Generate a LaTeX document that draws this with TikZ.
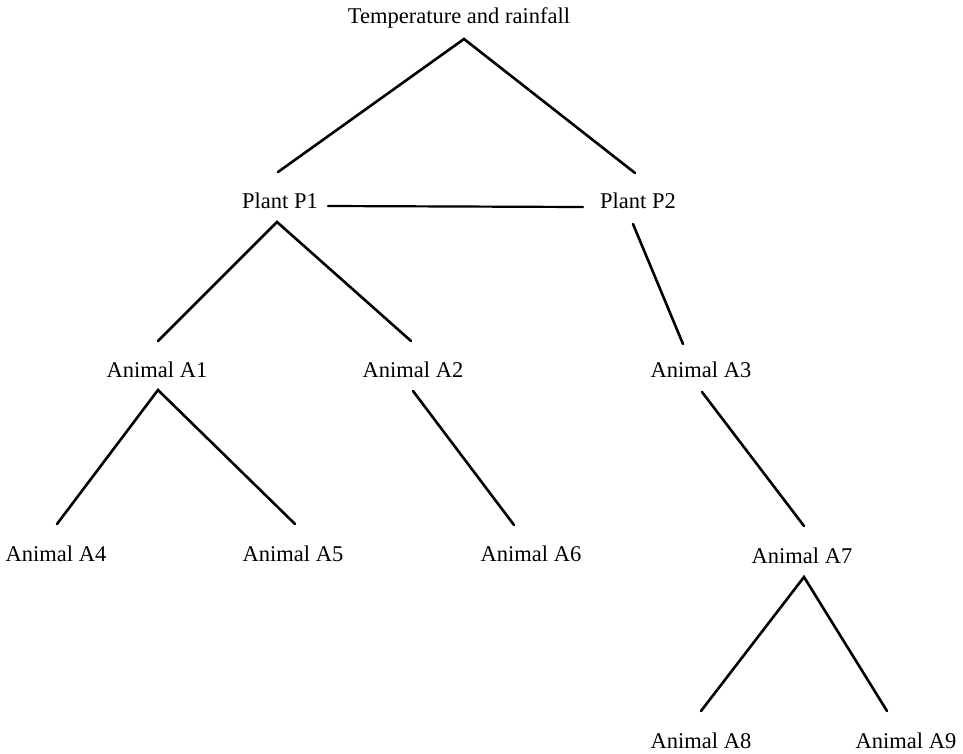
\documentclass[tikz,border=0pt]{standalone}
\usepackage{fontspec}
\setmainfont{Liberation Serif}
\begin{document}
\begin{tikzpicture}[x=1pt,y=-1pt,
  lbl/.style={anchor=base,inner sep=0pt,font=\fontsize{22.5}{27}\selectfont},
  link/.style={line width=2.6pt,line cap=round}]
\useasboundingbox[fill=white] (0,0) rectangle (963,753);

% labels
\node[lbl] (T)  at (459,23)  {Temperature and rainfall};
\node[lbl] (P1) at (280,208) {Plant P1};
\node[lbl] (P2) at (638,208) {Plant P2};
\node[lbl] (A1) at (157,377) {Animal A1};
\node[lbl] (A2) at (413,377) {Animal A2};
\node[lbl] (A3) at (701,377) {Animal A3};
\node[lbl] (A4) at (56,561)  {Animal A4};
\node[lbl] (A5) at (293,561) {Animal A5};
\node[lbl] (A6) at (531,561) {Animal A6};
\node[lbl] (A7) at (802,563) {Animal A7};
\node[lbl] (A8) at (701,748) {Animal A8};
\node[lbl] (A9) at (906,748) {Animal A9};

% line ends
\coordinate (Tb)   at (464,39);
\coordinate (P1t)  at (278,172);
\coordinate (P2t)  at (635,173);
\coordinate (P1b)  at (277,222);
\coordinate (P1r)  at (328,206);
\coordinate (P2l)  at (583,207);
\coordinate (P2b)  at (633,224);
\coordinate (A1t)  at (158,341);
\coordinate (A2t)  at (411,341);
\coordinate (A3t)  at (683,344);
\coordinate (A1b)  at (158,390);
\coordinate (A2b)  at (413,391);
\coordinate (A3b)  at (702,392);
\coordinate (A4t)  at (57,524);
\coordinate (A5t)  at (295,524);
\coordinate (A6t)  at (514,525);
\coordinate (A7t)  at (804,526);
\coordinate (A7b)  at (804,577);
\coordinate (A8t)  at (701,711);
\coordinate (A9t)  at (887,711);

% links
\draw[link] (P1t) -- (Tb) -- (P2t);
\draw[link,line width=2.2pt] (P1r) -- (P2l);
\draw[link] (A1t) -- (P1b) -- (A2t);
\draw[link] (P2b) -- (A3t);
\draw[link] (A4t) -- (A1b) -- (A5t);
\draw[link] (A2b) -- (A6t);
\draw[link] (A3b) -- (A7t);
\draw[link] (A8t) -- (A7b) -- (A9t);
\end{tikzpicture}
\end{document}
